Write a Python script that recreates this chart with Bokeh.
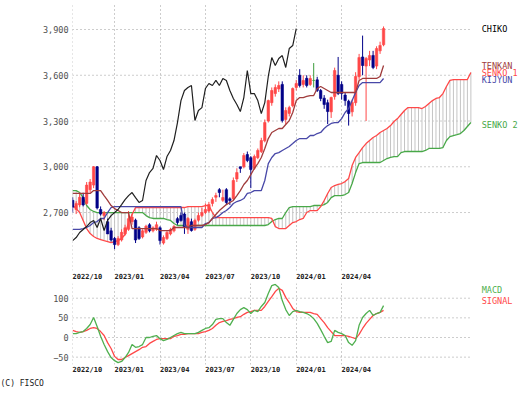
from bokeh.plotting import figure
from bokeh.layouts import column
from bokeh.models import Range1d, FixedTicker, ColumnDataSource, NumeralTickFormatter, Title
from bokeh.core.properties import value
from bokeh.embed import file_html
from bokeh.resources import INLINE

# ---------------- data (weekly, index 0 = week of 2022-10-10) ----------------
tick_idx = [0, 12, 25, 38, 51, 64, 77]
tick_labels = ["2022/10", "2023/01", "2023/04", "2023/07", "2023/10", "2024/01", "2024/04"]
price_ticks = [2700, 3000, 3300, 3600, 3900]
macd_ticks = [-50, 0, 50, 100]

open_ = [2780, 2720, 2750, 2800, 2760, 2850, 2880, 3000, 2720, 2680,
         2640, 2580, 2530, 2490, 2520, 2560, 2590, 2640, 2650, 2600,
         2540, 2570, 2620, 2580, 2590, 2600, 2500, 2530, 2560, 2580,
         2660, 2680, 2690, 2590, 2640, 2590, 2650, 2680, 2700, 2710,
         2760, 2800, 2850, 2780, 2850, 2790, 2790, 2920, 3000, 3000,
         3080, 3060, 2990, 3060, 3100, 3170, 3300, 3420, 3480, 3510,
         3540, 3310, 3350, 3400, 3520, 3600, 3540, 3580, 3540, 3566,
         3570, 3500, 3450, 3420, 3360, 3460, 3600, 3540, 3470, 3430,
         3360, 3420, 3590, 3720, 3660, 3700, 3730, 3660, 3760, 3800]
high = [2800, 2775, 2830, 2830, 2900, 2920, 3005, 3005, 2740, 2710,
        2660, 2600, 2540, 2545, 2590, 2620, 2710, 2690, 2660, 2610,
        2590, 2620, 2630, 2610, 2640, 2610, 2550, 2580, 2600, 2620,
        2670, 2700, 2700, 2670, 2660, 2660, 2700, 2730, 2760, 2770,
        2800, 2830, 2860, 2850, 2860, 2800, 2930, 2990, 3000, 3090,
        3100, 3070, 3080, 3120, 3190, 3310, 3440, 3520, 3540, 3560,
        3560, 3390, 3400, 3520, 3570, 3640, 3600, 3600, 3600, 3680,
        3590, 3510, 3470, 3440, 3460, 3650, 3720, 3560, 3490, 3440,
        3440, 3620, 3740, 3860, 3720, 3760, 3760, 3790, 3820, 3920]
low = [2700, 2690, 2735, 2740, 2750, 2830, 2860, 2720, 2680, 2650,
       2560, 2510, 2460, 2480, 2510, 2550, 2580, 2620, 2500, 2520,
       2530, 2560, 2570, 2570, 2580, 2490, 2490, 2520, 2550, 2570,
       2620, 2640, 2560, 2560, 2575, 2580, 2640, 2670, 2690, 2700,
       2740, 2770, 2800, 2770, 2750, 2750, 2780, 2900, 2960, 2990,
       3030, 2860, 2980, 3050, 3090, 3160, 3290, 3400, 3460, 3490,
       3290, 3280, 3330, 3390, 3500, 3520, 3520, 3520, 3530, 3520,
       3490, 3430, 3380, 3280, 3320, 3440, 3470, 3440, 3400, 3270,
       3330, 3400, 3570, 3600, 3300, 3660, 3640, 3640, 3740, 3790]
close = [2735, 2760, 2800, 2750, 2880, 2900, 3000, 2730, 2690, 2700,
         2560, 2520, 2490, 2530, 2570, 2600, 2660, 2670, 2520, 2530,
         2580, 2610, 2580, 2600, 2620, 2516, 2536, 2569, 2589, 2608,
         2634, 2648, 2602, 2661, 2582, 2648, 2680, 2700, 2720, 2752,
         2785, 2811, 2831, 2798, 2766, 2779, 2910, 2962, 2989, 3074,
         3041, 2982, 3067, 3107, 3172, 3290, 3434, 3500, 3520, 3533,
         3303, 3369, 3388, 3513, 3546, 3533, 3566, 3533, 3579, 3566,
         3500, 3448, 3408, 3362, 3454, 3631, 3480, 3480, 3434, 3349,
         3421, 3592, 3716, 3664, 3710, 3729, 3651, 3775, 3795, 3906]

tenkan = [2825, 2825, 2825, 2825, 2825, 2825, 2844, 2844, 2844, 2811,
          2779, 2746, 2726, 2713, 2700, 2700, 2700, 2595, 2595, 2595,
          2595, 2595, 2595, 2595, 2595, 2582, 2582, 2582, 2582, 2602,
          2602, 2602, 2602, 2602, 2615, 2615, 2615, 2615, 2621, 2634,
          2661, 2687, 2713, 2733, 2752, 2766, 2779, 2811, 2844, 2884,
          2910, 2949, 2989, 3021, 3061, 3120, 3185, 3225, 3238, 3251,
          3251, 3277, 3303, 3356, 3434, 3454, 3454, 3461, 3467, 3467,
          3513, 3526, 3513, 3500, 3487, 3487, 3487, 3487, 3487, 3487,
          3487, 3487, 3566, 3579, 3579, 3579, 3579, 3579, 3592, 3664]
kijun = [2589, 2589, 2589, 2595, 2602, 2615, 2634, 2641, 2661, 2661,
         2700, 2733, 2739, 2739, 2739, 2739, 2739, 2739, 2739, 2739,
         2739, 2739, 2739, 2739, 2739, 2739, 2739, 2739, 2739, 2739,
         2739, 2739, 2615, 2602, 2602, 2602, 2602, 2602, 2628, 2634,
         2661, 2667, 2680, 2700, 2713, 2733, 2759, 2772, 2779, 2792,
         2825, 2831, 2844, 2844, 2844, 2910, 3021, 3061, 3087, 3093,
         3107, 3120, 3133, 3152, 3172, 3185, 3185, 3185, 3205, 3205,
         3218, 3225, 3251, 3270, 3284, 3290, 3290, 3316, 3356, 3382,
         3434, 3487, 3533, 3552, 3552, 3552, 3552, 3552, 3552, 3579]
senko1 = [2746, 2726, 2700, 2648, 2595, 2562, 2543, 2530, 2523, 2516,
          2510, 2503, 2510, 2516, 2530, 2556, 2634, 2687, 2733, 2733,
          2733, 2733, 2733, 2733, 2733, 2733, 2733, 2733, 2733, 2733,
          2733, 2733, 2733, 2739, 2739, 2739, 2739, 2739, 2746, 2746,
          2700, 2667, 2667, 2667, 2667, 2667, 2667, 2667, 2667, 2667,
          2667, 2667, 2667, 2667, 2667, 2667, 2667, 2661, 2608, 2595,
          2595, 2595, 2615, 2634, 2641, 2654, 2661, 2700, 2713, 2713,
          2713, 2739, 2779, 2825, 2864, 2877, 2884, 2890, 2903, 2923,
          3008, 3061, 3093, 3126, 3152, 3172, 3192, 3205, 3225, 3238,
          3251, 3270, 3297, 3316, 3343, 3369, 3388, 3388, 3388, 3388,
          3382, 3395, 3415, 3434, 3448, 3454, 3480, 3526, 3566, 3572,
          3572, 3572, 3572, 3572, 3618]
senko2 = [2844, 2844, 2831, 2798, 2746, 2720, 2707, 2700, 2700, 2700,
          2700, 2700, 2700, 2700, 2700, 2700, 2700, 2700, 2700, 2700,
          2700, 2680, 2667, 2661, 2661, 2661, 2661, 2654, 2648, 2628,
          2615, 2615, 2615, 2615, 2615, 2615, 2615, 2615, 2615, 2615,
          2615, 2615, 2615, 2615, 2615, 2615, 2615, 2615, 2615, 2615,
          2615, 2615, 2615, 2615, 2615, 2615, 2621, 2641, 2654, 2661,
          2661, 2700, 2733, 2739, 2739, 2739, 2739, 2739, 2739, 2746,
          2746, 2746, 2752, 2766, 2798, 2811, 2811, 2811, 2818, 2831,
          2890, 2962, 3021, 3028, 3028, 3028, 3028, 3028, 3028, 3041,
          3054, 3061, 3067, 3067, 3093, 3100, 3100, 3100, 3100, 3100,
          3100, 3107, 3120, 3120, 3120, 3120, 3126, 3172, 3198, 3205,
          3211, 3218, 3238, 3264, 3290]

macd = [10, 10, 13, 15, 23, 33, 51, 28, 3, -18,
        -36, -51, -59, -64, -61, -51, -38, -18, -25, -23,
        -18, 0, 0, 3, 5, -3, -8, -5, 0, 5,
        10, 13, 10, 10, 10, 10, 13, 18, 23, 25,
        33, 46, 48, 48, 38, 31, 46, 61, 71, 76,
        71, 61, 69, 66, 79, 89, 112, 132, 135, 127,
        94, 71, 56, 66, 69, 66, 64, 61, 56, 48,
        36, 20, 3, -13, -10, 18, 13, 10, 5, -13,
        -20, -8, 31, 51, 61, 69, 56, 61, 64, 81]
signal = [18, 15, 13, 15, 18, 23, 25, 23, 15, 5,
          -13, -28, -48, -56, -56, -51, -46, -41, -36, -31,
          -25, -23, -15, -10, -5, -3, -3, -3, -3, 3,
          5, 8, 8, 10, 10, 10, 10, 13, 15, 18,
          23, 31, 38, 41, 43, 46, 48, 51, 53, 59,
          64, 66, 69, 69, 69, 79, 92, 104, 117, 125,
          120, 102, 89, 74, 66, 64, 64, 64, 64, 61,
          59, 48, 38, 25, 15, 5, 5, 5, 5, 3,
          0, -3, 8, 23, 36, 46, 56, 61, 64, 69]

chiko_shift = 25
right_label_text = ["CHIKO", "TENKAN", "SENKO 1", "KIJYUN", "SENKO 2"]
right_label_y = [3900, 3660, 3612, 3566, 3277]
macd_label_text = ["MACD", "SIGNAL"]
macd_label_y = [122, 94]

# ---------------- styling ----------------
FONT = "DejaVu Sans Mono"
UP = "#ff4848"
DOWN = "#000088"
EVEN = "#3c9c3c"
C_TENKAN = "#a03c3c"
C_KIJUN = "#4848a8"
C_SENKO1 = "#ff4848"
C_SENKO2 = "#48a848"
C_MACD = "#50b050"
C_SIGNAL = "#ff4848"
GRID = "#9a9a9a"
X0, X_GRID_END, X_MAX = -0.05, 114.45, 130.78   # frame spans plot area + label column
LABEL_X = 117.1
LABEL_SHIFT = 4.2   # x-axis labels start at their grid line

n = len(close)
idx = list(range(n))
sidx = list(range(len(senko1)))
colors = [UP if c > o else (DOWN if c < o else EVEN) for o, c in zip(open_, close)]
src = ColumnDataSource(dict(x=idx, high=high, low=low, top=[max(o, c) for o, c in zip(open_, close)],
                            bottom=[min(o, c) for o, c in zip(open_, close)], color=colors))

x_range = Range1d(X0, X_MAX)


def style(p, yticks):
    p.outline_line_color = None
    for ax in p.axis:
        ax.axis_line_color = None
        ax.major_tick_line_color = None
        ax.minor_tick_line_color = None
        ax.major_tick_out = 0
        ax.major_tick_in = 0
        ax.minor_tick_out = 0
        ax.minor_tick_in = 0
        ax.major_label_text_font = FONT
    p.yaxis.ticker = FixedTicker(ticks=yticks)
    p.yaxis.major_label_text_font_size = "8.5px"
    p.yaxis.major_label_text_color = "#505050"
    p.yaxis.major_label_standoff = 4
    shifted = [t + LABEL_SHIFT for t in tick_idx]
    p.xaxis.ticker = FixedTicker(ticks=shifted)
    p.xaxis.major_label_overrides = {t: l for t, l in zip(shifted, tick_labels)}
    p.xaxis.major_label_text_font_size = "7px"
    p.xaxis.major_label_text_font_style = "bold"
    p.xaxis.major_label_text_color = "#202020"
    p.xaxis.major_label_standoff = 2
    p.ygrid.grid_line_color = None
    p.xgrid.ticker = FixedTicker(ticks=tick_idx)
    p.xgrid.grid_line_color = GRID
    p.xgrid.grid_line_dash = "1 3"
    p.xgrid.grid_line_width = 1
    k = len(yticks)
    p.segment(x0=[X0] * k, x1=[X_GRID_END] * k, y0=yticks, y1=yticks,
              line_color=GRID, line_dash="1 3", line_width=1)


# ---------------- main Ichimoku panel ----------------
p1 = figure(width=529, height=283, x_range=x_range, y_range=Range1d(2320, 4077),
            output_backend="svg", toolbar_location=None,
            min_border_left=72, min_border_right=0, min_border_top=2, min_border_bottom=13)
style(p1, price_ticks)
p1.yaxis.formatter = NumeralTickFormatter(format="0,0")

p1.segment(x0=sidx, y0=senko1, x1=sidx, y1=senko2, line_color="#c4c4c4", line_width=1)
p1.line(sidx, senko2, line_color=C_SENKO2, line_width=1.3)
p1.line(sidx, senko1, line_color=C_SENKO1, line_width=1.3)
p1.segment(x0="x", y0="high", x1="x", y1="low", line_color="color", line_width=1, source=src)
p1.vbar(x="x", width=0.7, top="top", bottom="bottom", fill_color="color", line_color="color",
        line_width=0.6, source=src)
p1.line(idx, kijun, line_color=C_KIJUN, line_width=1.3)
p1.line(idx, tenkan, line_color=C_TENKAN, line_width=1.3)
p1.line([i - chiko_shift for i in idx[chiko_shift:]], close[chiko_shift:], line_color="#202020", line_width=1.2)

p1.text(x=[LABEL_X] * len(right_label_text), y=right_label_y, text=right_label_text,
        text_color=["#000000", C_TENKAN, C_SENKO1, C_KIJUN, C_SENKO2],
        text_font=value(FONT), text_font_size=value("8.5px"), text_align="left", text_baseline="middle")

# ---------------- MACD panel ----------------
p2 = figure(width=529, height=114, x_range=x_range, y_range=Range1d(-68.7, 137.4),
            output_backend="svg", toolbar_location=None,
            min_border_left=72, min_border_right=0, min_border_top=0, min_border_bottom=33)
style(p2, macd_ticks)
p2.xaxis.major_label_standoff = 1
p2.xaxis.major_label_text_line_height = 1.0
p2.line(idx, signal, line_color=C_SIGNAL, line_width=1.3)
p2.line(idx, macd, line_color=C_MACD, line_width=1.3)
p2.text(x=[LABEL_X] * 2, y=macd_label_y, text=macd_label_text, text_color=[C_MACD, C_SIGNAL],
        text_font=value(FONT), text_font_size=value("8.5px"), text_align="left", text_baseline="middle")
p2.add_layout(Title(text="(C) FISCO", align="left", offset=-72, standoff=0, text_font=FONT,
                    text_font_size="8px", text_font_style="normal", text_color="#202020",
                    text_line_height=0.9), "below")

layout = column(p1, p2)
open("out.html", "w").write(file_html(layout, INLINE))
